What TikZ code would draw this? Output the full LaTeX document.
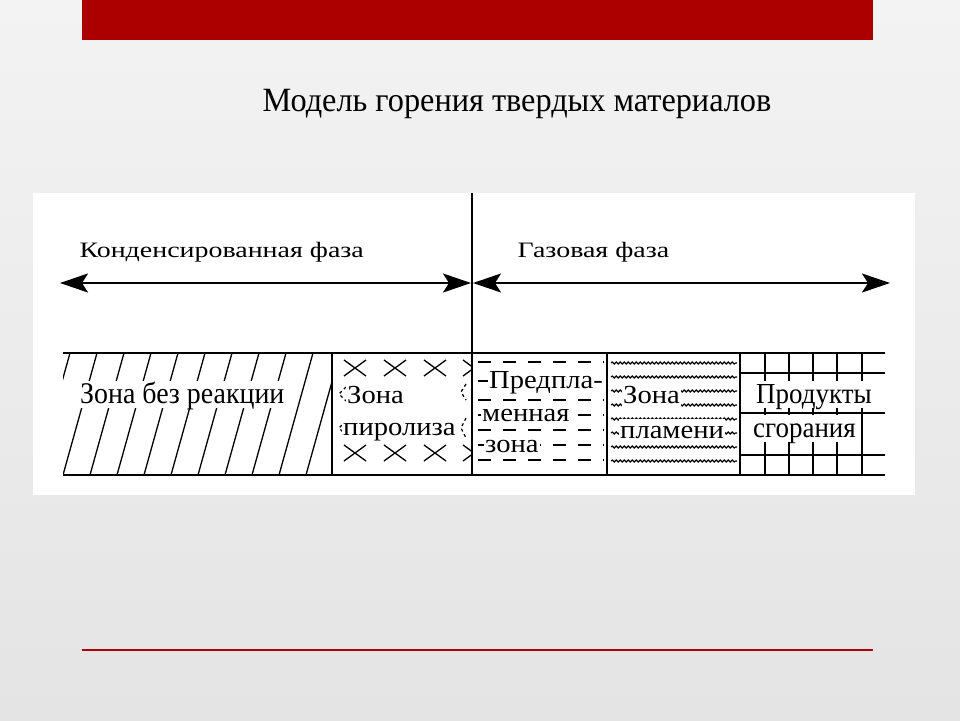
\documentclass[tikz,border=0pt]{standalone}
\usepackage{fontspec}
\setmainfont{Liberation Serif}
\newfontfamily\scanfont[FakeStretch=1.1]{Liberation Serif}
\newfontfamily\tallfont[FakeStretch=0.93]{Liberation Serif}
\newfontfamily\widefont[FakeStretch=1.27]{Liberation Serif}
\newfontfamily\titlefont[FakeStretch=0.95]{Liberation Serif}
\usetikzlibrary{arrows.meta}
\usetikzlibrary{decorations.pathmorphing}
\definecolor{slidetop}{RGB}{243,243,243}
\definecolor{slidebot}{RGB}{228,228,228}
\definecolor{barred}{RGB}{172,0,0}

\begin{document}
\begin{tikzpicture}[x=1pt,y=-1pt,
  frame/.style={line width=1.8pt},
  phase/.style={line width=2pt,
                {Stealth[length=28pt,width=19pt,inset=6pt]}-{Stealth[length=28pt,width=19pt,inset=6pt]}},
  hatch/.style={line width=1.3pt},
  cross/.style={line width=1.3pt},
  dashrow/.style={line width=1.5pt,dash pattern=on 13pt off 12pt},
  waverow/.style={line width=1.1pt,decorate,
                  decoration={snake,segment length=4pt,amplitude=1pt}},
  gridrow/.style={line width=1.5pt},
  zonetxt/.style={font=\scanfont\fontsize{26}{30}\selectfont,fill=white,
                  inner sep=1pt,text height=18pt,text depth=4pt,anchor=base west},
  talltxt/.style={zonetxt,text height=21pt,text depth=4pt},
  phasetxt/.style={font=\widefont\fontsize{22}{26}\selectfont,anchor=base west}]
  \useasboundingbox (0,0) rectangle (960,720);

  % ===== slide =====
  \shade[top color=slidetop,bottom color=slidebot] (0,0) rectangle (960,720);
  \fill[barred] (82,0) rectangle (873,40);
  \draw[barred,line width=2pt] (82,650) -- (873,650);
  \node[font=\titlefont\fontsize{34}{40}\selectfont,anchor=base] (title) at (517,111)
     {Модель горения твердых материалов};

  % ===== white panel =====
  \fill[white] (33,193) rectangle (915,495);

  % ===== phases =====
  \node[phasetxt] (cond) at (76,257) {Конденсированная фаза};
  \node[phasetxt] (gas)  at (514,257) {Газовая фаза};
  \coordinate (condL) at (60,283);  \coordinate (condR) at (471,283);
  \coordinate (gasL)  at (473,283); \coordinate (gasR)  at (890,283);
  \draw[phase] (condL) -- (condR);
  \draw[phase] (gasL) -- (gasR);

  % ===== zone patterns =====
  % no reaction: hatching
  \begin{scope}
    \clip (63,353) rectangle (332,475);
    \foreach \x in {36,63,...,340}
      \draw[hatch] (\x,475) -- ({\x+34},353);
  \end{scope}
  % pyrolysis: crosses
  \begin{scope}
    \clip (332,353) rectangle (472,475);
    \foreach \x in {355,395,435,474}
      \foreach \y in {368,453}
        \draw[cross] ({\x-11},{\y-8}) -- ({\x+11},{\y+8})
                     ({\x-11},{\y+8}) -- ({\x+11},{\y-8});
  \end{scope}
  \draw[cross,dashed] (346,387) -- (339,394) -- (346,401)
                      (346,421) -- (339,428) -- (346,435);
  \draw[cross,dashed] (466,384) -- (461,392) -- (466,400)
                      (466,418) -- (461,428) -- (466,438);
  % pre-flame: dashes
  \foreach \y in {362,381,400,415,430,445,460}
    \draw[dashrow] (478,\y) -- (604,\y);
  % flame: waves
  \foreach \y in {363,377,...,461}
    \draw[waverow] (611,\y) -- (737,\y);
  % products: grid
  \foreach \y in {373,413,455}
    \draw[gridrow] (740,\y) -- (885,\y);
  \foreach \x in {765,789,813,837,862}
    \draw[gridrow] (\x,353) -- (\x,475);

  % ===== table frame =====
  \draw[frame] (63,353) -- (885,353);
  \draw[frame] (63,475) -- (885,475);
  \draw[frame] (332,353) -- (332,475);
  \draw[frame] (607,353) -- (607,475);
  \draw[frame] (740,353) -- (740,475);
  \draw[frame] (472,193) -- (472,475);

  % ===== zone labels =====
  \node[talltxt,font=\tallfont\fontsize{30}{34}\selectfont] (noreact) at (79,403) {Зона без реакции};
  \node[zonetxt] (pyroA) at (346,403) {Зона};
  \node[zonetxt] (pyroB) at (342,435) {пиролиза};
  \node[zonetxt] (preA) at (488,388) {Предпла-};
  \node[zonetxt] (preB) at (481,421) {менная};
  \node[zonetxt] (preC) at (484,452) {зона};
  \node[zonetxt] (flameA) at (622,403) {Зона};
  \node[zonetxt] (flameB) at (619,438) {пламени};
  \node[talltxt,font=\tallfont\fontsize{29}{33}\selectfont] (prodA) at (755,403) {Продукты};
  \node[talltxt,font=\tallfont\fontsize{29}{33}\selectfont] (prodB) at (752,437) {сгорания};

\end{tikzpicture}
\end{document}
